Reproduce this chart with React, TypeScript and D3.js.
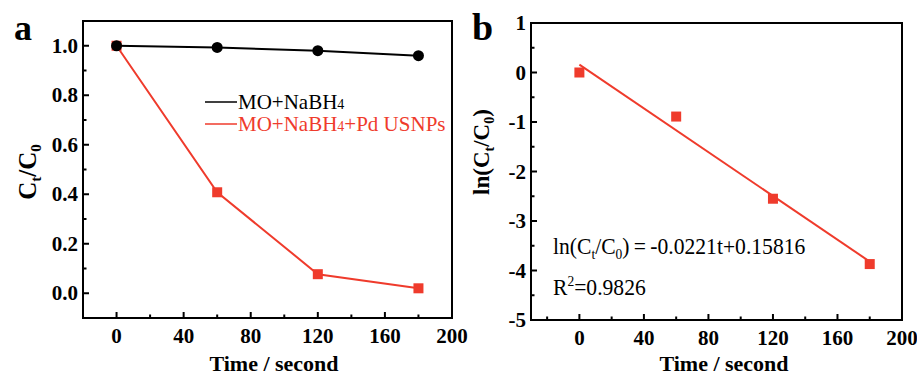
import React, { useEffect, useRef } from "react";
import * as d3 from "d3";

// data
const time = [0, 60, 120, 180];
const blankRatio = [1.0, 0.993, 0.98, 0.96]; // MO+NaBH4
const pdRatio = [1.0, 0.408, 0.077, 0.02]; // MO+NaBH4+Pd USNPs
const lnRatio = [0.0, -0.89, -2.55, -3.87];
const fitSlope = -0.0221;
const fitIntercept = 0.15816;
const fitTime = [0, 180];

const xTicks = [0, 40, 80, 120, 160, 200];
const xMinor = [-20, 20, 60, 100, 140, 180];
const yTicksA = [0, 0.2, 0.4, 0.6, 0.8, 1.0];
const yMinorA = [-0.1, 0.1, 0.3, 0.5, 0.7, 0.9];
const yTicksB = [-5, -4, -3, -2, -1, 0, 1];
const yMinorB = [-4.5, -3.5, -2.5, -1.5, -0.5, 0.5];

const RED = "#ef3b2c";
const FONT = '"Liberation Serif", "Times New Roman", Times, serif';

const W = 917;
const H = 378;

const App = () => {
  const svgRef = useRef(null);

  useEffect(() => {
    const svg = d3.select(svgRef.current);
    svg.selectAll("*").remove();

    const txt = (g) => g.append("text").style("font-family", FONT);

    const drawAxes = (g, x, y, yTicks, yMinor, fmt, titleX) => {
      const [x0, x1] = x.range();
      const [y0, y1] = y.range(); // y0 bottom
      // x ticks (inward)
      g.selectAll(".xt").data(xTicks.filter(t => t > x.domain()[0] && t < x.domain()[1]))
        .enter().append("line")
        .attr("x1", d => x(d)).attr("x2", d => x(d))
        .attr("y1", y0).attr("y2", y0 - 6)
        .attr("stroke", "#000").attr("stroke-width", 2);
      g.selectAll(".xm").data(xMinor.filter(t => t > x.domain()[0] && t < x.domain()[1]))
        .enter().append("line")
        .attr("x1", d => x(d)).attr("x2", d => x(d))
        .attr("y1", y0).attr("y2", y0 - 3.5)
        .attr("stroke", "#000").attr("stroke-width", 2);
      xTicks.forEach(t => {
        txt(g).attr("x", x(t)).attr("y", y0 + 25)
          .attr("text-anchor", "middle")
          .attr("font-size", 21).attr("font-weight", "bold")
          .text(t);
      });
      // y ticks
      g.selectAll(".yt").data(yTicks.filter(t => t > y.domain()[0] && t < y.domain()[1]))
        .enter().append("line")
        .attr("x1", x0).attr("x2", x0 + 6)
        .attr("y1", d => y(d)).attr("y2", d => y(d))
        .attr("stroke", "#000").attr("stroke-width", 2);
      g.selectAll(".ym").data(yMinor)
        .enter().append("line")
        .attr("x1", x0).attr("x2", x0 + 3.5)
        .attr("y1", d => y(d)).attr("y2", d => y(d))
        .attr("stroke", "#000").attr("stroke-width", 2);
      yTicks.forEach(t => {
        txt(g).attr("x", x0 - 5).attr("y", y(t))
          .attr("dy", "0.34em")
          .attr("text-anchor", "end")
          .attr("font-size", 21).attr("font-weight", "bold")
          .text(fmt(t));
      });
      // frame
      g.append("rect")
        .attr("x", x0).attr("y", y1)
        .attr("width", x1 - x0).attr("height", y0 - y1)
        .attr("fill", "none").attr("stroke", "#000").attr("stroke-width", 2);
      // x title
      txt(g).attr("x", titleX).attr("y", 371)
        .attr("text-anchor", "middle")
        .attr("font-size", 22).attr("font-weight", "bold")
        .text("Time / second");
    };

    // ---------- panel a ----------
    const xa = d3.scaleLinear().domain([-20, 200]).range([83, 452]);
    const ya = d3.scaleLinear().domain([-0.1, 1.1]).range([318, 21]);
    const ga = svg.append("g");
    drawAxes(ga, xa, ya, yTicksA, yMinorA, d3.format(".1f"), 274);

    const lineA = (vals) => d3.line().x((d, i) => xa(time[i])).y(d => ya(d))(vals);
    ga.append("path").attr("d", lineA(pdRatio))
      .attr("fill", "none").attr("stroke", RED).attr("stroke-width", 2);
    ga.append("path").attr("d", lineA(blankRatio))
      .attr("fill", "none").attr("stroke", "#000").attr("stroke-width", 2);
    ga.selectAll(".sq").data(pdRatio).enter().append("rect")
      .attr("x", (d, i) => xa(time[i]) - 5).attr("y", d => ya(d) - 5)
      .attr("width", 10).attr("height", 10).attr("fill", RED);
    ga.selectAll(".ci").data(blankRatio).enter().append("circle")
      .attr("cx", (d, i) => xa(time[i])).attr("cy", d => ya(d))
      .attr("r", 5.5).attr("fill", "#000");

    // legend
    const legend = [
      { color: "#000", parts: ["MO+NaBH", "4", ""] },
      { color: RED, parts: ["MO+NaBH", "4", "+Pd USNPs"] },
    ];
    legend.forEach((l, i) => {
      const yy = 102 + i * 22;
      ga.append("line").attr("x1", 205).attr("x2", 237)
        .attr("y1", yy).attr("y2", yy)
        .attr("stroke", l.color).attr("stroke-width", 1.5);
      const t = txt(ga).attr("x", 238).attr("y", yy + 7)
        .attr("font-size", 21).attr("fill", l.color);
      t.append("tspan").text(l.parts[0]);
      t.append("tspan").attr("font-size", 14).text(l.parts[1]);
      if (l.parts[2]) t.append("tspan").text(l.parts[2]);
    });

    // y title a
    const yta = txt(ga)
      .attr("transform", "translate(36,172) rotate(-90)")
      .attr("text-anchor", "middle")
      .attr("font-size", 25).attr("font-weight", "bold");
    yta.append("tspan").text("C");
    yta.append("tspan").attr("font-size", 15).attr("dy", 5).text("t");
    yta.append("tspan").attr("dy", -5).text("/C");
    yta.append("tspan").attr("font-size", 15).attr("dy", 5).text("0");

    txt(ga).attr("x", 14).attr("y", 40)
      .attr("font-size", 36).attr("font-weight", "bold").text("a");

    // ---------- panel b ----------
    const xb = d3.scaleLinear().domain([-30, 200]).range([531, 902]);
    const yb = d3.scaleLinear().domain([-5, 1]).range([320, 23]);
    const gb = svg.append("g");
    drawAxes(gb, xb, yb, yTicksB, yMinorB, d => String(d), 724);

    gb.append("path")
      .attr("d", d3.line().x(d => xb(d)).y(d => yb(fitSlope * d + fitIntercept))(fitTime))
      .attr("fill", "none").attr("stroke", RED).attr("stroke-width", 2);
    gb.selectAll(".sq").data(lnRatio).enter().append("rect")
      .attr("x", (d, i) => xb(time[i]) - 5).attr("y", d => yb(d) - 5)
      .attr("width", 10).attr("height", 10).attr("fill", RED);

    // equation (slightly condensed, as in the figure)
    const eqG = gb.append("g").attr("transform", "translate(553,254) scale(0.9,1)");
    const eq = txt(eqG).attr("x", 0).attr("y", 0).attr("font-size", 24);
    eq.append("tspan").text("ln(C");
    eq.append("tspan").attr("font-size", 15).attr("dy", 5).text("t");
    eq.append("tspan").attr("dy", -5).text("/C");
    eq.append("tspan").attr("font-size", 15).attr("dy", 5).text("0");
    eq.append("tspan").attr("dy", -5).text(")\u2009=\u2009-0.0221t+0.15816");

    const r2G = gb.append("g").attr("transform", "translate(553,295) scale(0.9,1)");
    const r2 = txt(r2G).attr("x", 0).attr("y", 0).attr("font-size", 24);
    r2.append("tspan").text("R");
    r2.append("tspan").attr("font-size", 15).attr("dy", -9).text("2");
    r2.append("tspan").attr("dy", 9).text("=0.9826");

    // y title b
    const ytb = txt(gb)
      .attr("transform", "translate(489,152) rotate(-90)")
      .attr("text-anchor", "middle")
      .attr("font-size", 23).attr("font-weight", "bold");
    ytb.append("tspan").text("ln(C");
    ytb.append("tspan").attr("font-size", 14).attr("dy", 5).text("t");
    ytb.append("tspan").attr("dy", -5).text("/C");
    ytb.append("tspan").attr("font-size", 14).attr("dy", 5).text("0");
    ytb.append("tspan").attr("dy", -5).text(")");

    txt(gb).attr("x", 472).attr("y", 40)
      .attr("font-size", 38).attr("font-weight", "bold").text("b");
  }, []);

  return (
    <svg
      ref={svgRef}
      width={W}
      height={H}
      style={{ position: "absolute", left: 0, top: 0, background: "#fff" }}
    />
  );
};

export default App;
